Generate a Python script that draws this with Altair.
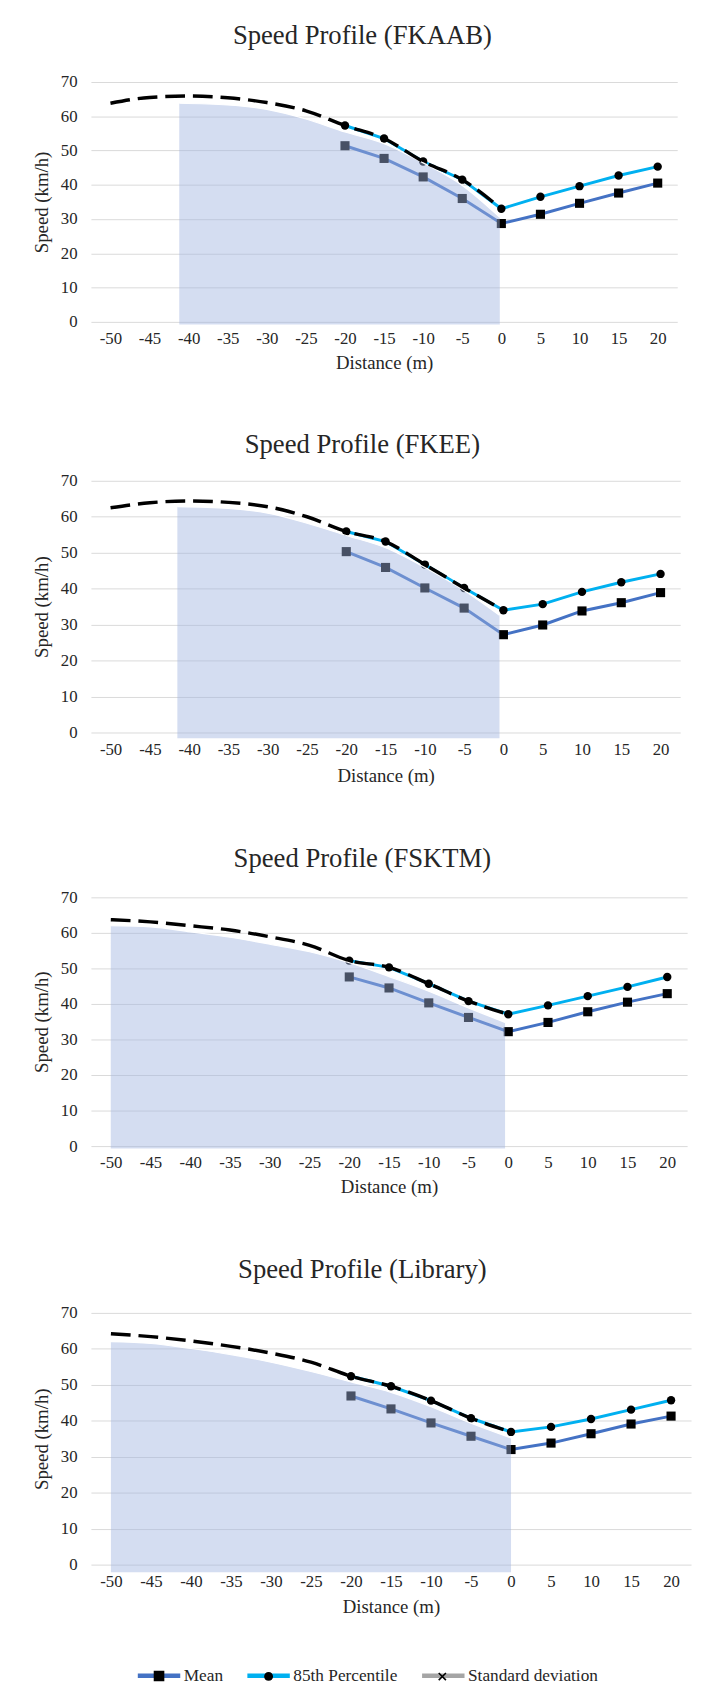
import altair as alt
import pandas as pd

# ---------------- data ----------------
panel_names = ["FKAAB", "FKEE", "FSKTM", "Library"]
distance = [-20, -15, -10, -5, 0, 5, 10, 15, 20]
trend_distance = [-50, -45, -40, -35, -30, -25, -20]
x_tick_values = [-50, -45, -40, -35, -30, -25, -20, -15, -10, -5, 0, 5, 10, 15, 20]
y_tick_values = [0, 10, 20, 30, 40, 50, 60, 70]
legend_names = ["Mean", "85th Percentile", "Standard deviation"]

mean_fkaab = [51.4, 47.7, 42.3, 36.0, 28.7, 31.4, 34.6, 37.6, 40.5]
p85_fkaab = [57.3, 53.5, 46.8, 41.5, 33.0, 36.5, 39.6, 42.7, 45.3]
trend_fkaab = [63.8, 65.5, 65.9, 65.4, 64.0, 61.6, 57.3]
zone_x_fkaab = [-41.2, -35, -30, -25, -20, -15, -10, -5, -0.2]
zone_top_fkaab = [63.8, 63.3, 62.0, 59.2, 55.4, 52.0, 46.4, 39.8, 30.5]
zone_base_fkaab = -0.8

mean_fkee = [50.3, 45.9, 40.2, 34.6, 27.2, 29.9, 33.8, 36.1, 38.9]
p85_fkee = [55.9, 53.1, 46.7, 40.2, 34.0, 35.7, 39.1, 41.8, 44.1]
trend_fkee = [62.5, 63.9, 64.4, 64.0, 62.8, 60.0, 55.9]
zone_x_fkee = [-41.5, -35, -30, -25, -20, -15, -10, -5, -0.5]
zone_top_fkee = [62.8, 62.3, 61.0, 58.2, 54.8, 51.4, 45.9, 39.5, 32.6]
zone_base_fkee = -1.6

mean_fsktm = [47.6, 44.5, 40.3, 36.2, 32.2, 34.8, 37.8, 40.5, 42.9]
p85_fsktm = [52.2, 50.3, 45.7, 40.8, 37.1, 39.6, 42.2, 44.8, 47.6]
trend_fsktm = [63.7, 63.1, 62.0, 60.8, 58.9, 56.5, 52.2]
zone_x_fsktm = [-50, -45, -40, -35, -30, -25, -20, -15, -10, -5, -0.4]
zone_top_fsktm = [62.0, 61.7, 60.3, 58.8, 56.8, 54.7, 51.6, 47.7, 43.6, 38.9, 34.8]
zone_base_fsktm = -0.7

mean_library = [46.9, 43.3, 39.4, 35.7, 32.0, 33.8, 36.4, 39.1, 41.3]
p85_library = [52.4, 49.6, 45.6, 40.7, 36.9, 38.3, 40.5, 43.1, 45.7]
trend_library = [64.2, 63.4, 62.2, 60.7, 58.8, 56.3, 52.4]
zone_x_library = [-50, -45, -40, -35, -30, -25, -20, -15, -10, -5, 0]
zone_top_library = [62.0, 61.5, 60.1, 58.4, 56.3, 53.7, 50.8, 47.9, 43.9, 39.3, 35.2]
zone_base_library = -2.1

series = [
    (mean_fkaab, p85_fkaab, trend_fkaab, zone_x_fkaab, zone_top_fkaab, zone_base_fkaab),
    (mean_fkee, p85_fkee, trend_fkee, zone_x_fkee, zone_top_fkee, zone_base_fkee),
    (mean_fsktm, p85_fsktm, trend_fsktm, zone_x_fsktm, zone_top_fsktm, zone_base_fsktm),
    (mean_library, p85_library, trend_library, zone_x_library, zone_top_library, zone_base_library),
]

# ---------------- styles / layout ----------------
FONT = "Liberation Serif, Times New Roman, DejaVu Serif, serif"
TXT = "#262626"
MEAN_C = "#4472C4"
P85_C = "#00B0F0"
SD_C = "#A5A5A5"
GRID_C = "#D9D9D9"
ZONE_C = "#9FB3E0"

panel_w = [594, 597, 604, 608]
panel_h = [243, 255, 252, 255]
title_offset = [10.8, 0, 2.7, 7.3]
title_dx = [-22, -23.5, -27, -29]
xtitle_y = [41, 44, 41, 42.7]

LEG_X = 45
LEG_Y = 343.5
LEG_PAD = 15
# marker symbols; the leading degenerate segment (invisible) reserves the
# same horizontal room as the line symbol + its label so both legends align
SQ_PATH = "M-1,0H2.574M-0.25,-0.25H0.25V0.25H-0.25Z"
CI_PATH = "M-1,0H5.62M-0.21,0A0.21,0.21,0,1,1,0.21,0A0.21,0.21,0,1,1,-0.21,0Z"
XX_PATH = ("M-1,0H7.0M0.144,0.196L0.196,0.144L-0.144,-0.196L-0.196,-0.144Z"
           "M-0.144,0.196L0.196,-0.144L0.144,-0.196L-0.196,0.144Z")


def make_panel(i):
    mean, p85, trend, zx, ztop, zbase = series[i]
    w, h = panel_w[i], panel_h[i]
    xs = alt.Scale(domain=[-52.5, 22.5], nice=False, zero=False)
    ys = alt.Scale(domain=[0, 70], nice=False, zero=False)
    common = dict(labelFont=FONT, labelFontSize=17, labelColor=TXT,
                  titleFont=FONT, titleFontSize=19, titleFontWeight="normal", titleColor=TXT,
                  domain=False, ticks=False, tickSize=0, labelFlush=False)
    x_axis = alt.Axis(values=x_tick_values, labelExpr="'' + datum.value", title="Distance (m)",
                      grid=False, labelPadding=9,
                      titleY=xtitle_y[i], titleBaseline="middle", **common)
    y_axis = alt.Axis(values=y_tick_values, title="Speed (km/h)", grid=True,
                      gridColor=GRID_C, gridWidth=1, labelPadding=14,
                      titleX=-49.5, titleY=h / 2, titleBaseline="middle", **common)

    def X():
        return alt.X("x:Q", scale=xs, axis=x_axis)

    def Y(f):
        return alt.Y(f"{f}:Q", scale=ys, axis=y_axis)

    obs = pd.DataFrame({"x": distance, "mean": mean, "p85": p85})
    trend_df = pd.DataFrame({"x": trend_distance + distance[1:5], "y": trend + p85[1:5]})
    zone_df = pd.DataFrame({"x": zx, "top": ztop, "base": [zbase] * len(zx)})

    layers = [
        alt.Chart(obs).mark_line(color=MEAN_C, strokeWidth=3).encode(x=X(), y=Y("mean")),
        alt.Chart(obs).mark_line(color=P85_C, strokeWidth=3).encode(x=X(), y=Y("p85")),
        alt.Chart(obs).mark_point(shape="square", filled=True, color="black", size=85,
                                  opacity=1).encode(x=X(), y=Y("mean")),
        alt.Chart(obs).mark_point(shape="circle", filled=True, color="black", size=72,
                                  opacity=1).encode(x=X(), y=Y("p85")),
        alt.Chart(zone_df).mark_area(color=ZONE_C, opacity=0.45, interpolate="monotone").encode(
            x=X(), y=Y("top"), y2=alt.Y2("base:Q")),
        alt.Chart(zone_df).mark_line(color="white", strokeWidth=1.2, interpolate="monotone").encode(
            x=X(), y=Y("top")),
        alt.Chart(trend_df).mark_line(color="black", strokeWidth=3.5, strokeDash=[20, 8],
                                      interpolate="monotone").encode(x=X(), y=Y("y")),
    ]

    if i == 3:
        empty = pd.DataFrame({
            "x": pd.Series([], dtype=float),
            "y": pd.Series([], dtype=float),
            "series": pd.Series([], dtype=str),
            "mk": pd.Series([], dtype=str),
        })
        line_leg = alt.Legend(title=None, orient="none", legendX=LEG_X, legendY=LEG_Y,
                              direction="horizontal", columns=3, symbolType="stroke",
                              symbolSize=1849, symbolStrokeWidth=4.5,
                              labelFont=FONT, labelFontSize=17.5, labelColor=TXT,
                              labelOffset=1, columnPadding=LEG_PAD, padding=0, zindex=1)
        mark_leg = alt.Legend(title=None, orient="none", legendX=LEG_X, legendY=LEG_Y,
                              direction="horizontal", columns=3,
                              symbolSize=1849, symbolFillColor="black",
                              symbolStrokeColor="transparent", symbolStrokeWidth=4.5,
                              labelExpr="''",
                              labelFont=FONT, labelFontSize=17.5, labelColor=TXT,
                              labelOffset=1, columnPadding=LEG_PAD, padding=0, zindex=2)
        layers.append(
            alt.Chart(empty).mark_line(strokeWidth=4.5).encode(
                x=X(), y=Y("y"),
                color=alt.Color("series:N",
                                scale=alt.Scale(domain=legend_names, range=[MEAN_C, P85_C, SD_C]),
                                legend=line_leg)))
        layers.append(
            alt.Chart(empty).mark_point(filled=True, color="black", opacity=1).encode(
                x=X(), y=Y("y"),
                shape=alt.Shape("mk:N",
                                scale=alt.Scale(domain=["m", "p", "s"], range=[SQ_PATH, CI_PATH, XX_PATH]),
                                legend=mark_leg)))

    return alt.layer(*layers).properties(
        width=w, height=h,
        title=alt.TitleParams(text=f"Speed Profile ({panel_names[i]})", font=FONT, fontSize=27,
                              fontWeight="normal", color=TXT, anchor="middle", frame="group",
                              offset=title_offset[i], dx=title_dx[i], baseline="middle"))


panels = [make_panel(i) for i in range(4)]

chart = (
    alt.vconcat(*panels, spacing=60)
    .resolve_scale(color="independent", shape="independent")
    .resolve_legend(color="independent", shape="independent")
    .properties(padding={"left": 25, "top": 2.9, "right": 5, "bottom": 0}, background="white")
    .configure_view(stroke=None)
    .configure_axis(labelFont=FONT, titleFont=FONT)
    .configure_legend(labelFont=FONT)
)

chart.save("out.html", embed_options={"renderer": "svg", "actions": False})
